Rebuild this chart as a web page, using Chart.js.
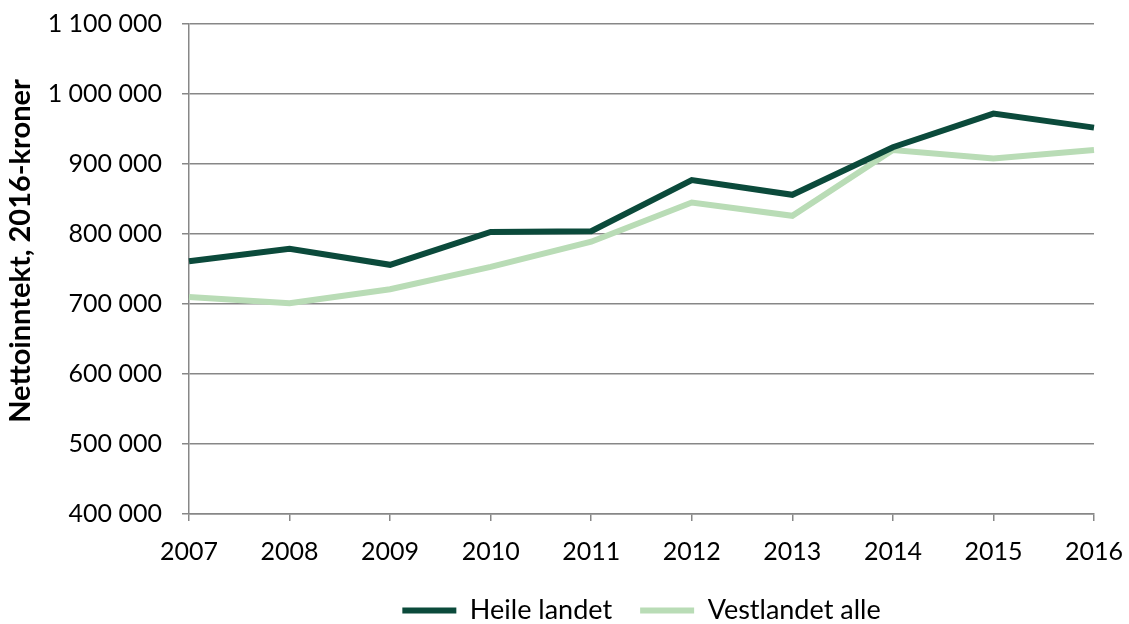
<!DOCTYPE html>
<html><head><meta charset="utf-8">
<script src="https://cdn.jsdelivr.net/npm/chart.js@4.4.1/dist/chart.umd.min.js"></script>
<style>html,body{margin:0;padding:0;background:#fff}#wrap{width:1129px;height:624px}</style>
</head><body><div id="wrap"><canvas id="c" width="1129" height="624"></canvas></div>
<script>
const years = ['2007','2008','2009','2010','2011','2012','2013','2014','2015','2016'];
const heileLandet = [761000, 779000, 756000, 803000, 804000, 877000, 856000, 924000, 972000, 952000];
const vestlandetAlle = [710000, 701000, 721000, 753000, 789000, 845000, 826000, 920000, 908000, 920000];
const seriesNames = ['Heile landet', 'Vestlandet alle'];
const yTitle = 'Nettoinntekt, 2016-kroner';
const yMin = 400000, yMax = 1100000, yStep = 100000;

const fmt = v => String(v).replace(/\B(?=(\d{3})+(?!\d))/g, ' ');
const FONT = 'Lato';
const grey = '#878787';

const legendCenter = {
  id: 'legendCenter',
  afterLayout(chart) {
    const l = chart.legend;
    if (!l) return;
    l.left = chart.chartArea.left;
    l.right = chart.chartArea.right;
    l.width = l.right - l.left;
  }
};

// y-axis title, drawn slightly above the plot's vertical centre as in the reference
const yTitlePlugin = {
  id: 'yTitlePlugin',
  afterDraw(chart) {
    const { ctx, chartArea } = chart;
    const cy = (chartArea.top + chartArea.bottom) / 2 - 18;
    ctx.save();
    ctx.translate(21, cy);
    ctx.rotate(-Math.PI / 2);
    ctx.font = 'bold 29px ' + FONT;
    ctx.fillStyle = '#000';
    ctx.textAlign = 'center';
    ctx.textBaseline = 'middle';
    ctx.fillText(yTitle, 0, 0);
    ctx.restore();
  }
};

new Chart(document.getElementById('c'), {
  type: 'line',
  data: {
    labels: years,
    datasets: [
      { label: seriesNames[0], data: heileLandet, borderColor: '#0b4a3b', backgroundColor: '#0b4a3b', borderWidth: 6, pointRadius: 0, tension: 0 },
      { label: seriesNames[1], data: vestlandetAlle, borderColor: '#b9dcb6', backgroundColor: '#b9dcb6', borderWidth: 6, pointRadius: 0, tension: 0 }
    ]
  },
  plugins: [legendCenter, yTitlePlugin],
  options: {
    responsive: false,
    animation: false,
    layout: { autoPadding: false, padding: { top: 24, right: 35, left: 0, bottom: -10 } },
    plugins: {
      tooltip: { enabled: false },
      legend: {
        position: 'bottom',
        labels: {
          color: '#000',
          font: { family: FONT, size: 27 },
          boxWidth: 54, boxHeight: 6, padding: 28,
          generateLabels: (chart) => Chart.defaults.plugins.legend.labels.generateLabels(chart).map(l => Object.assign(l, { lineWidth: 0 }))
        }
      }
    },
    scales: {
      x: {
        offset: false,
        grid: { drawOnChartArea: false, drawTicks: true, tickLength: 7, color: grey, lineWidth: 1.5 },
        border: { color: grey, width: 1.5 },
        ticks: { color: '#000', font: { family: FONT, size: 25 }, padding: 16, maxRotation: 0, autoSkip: false },
        afterFit: s => { s.height = 55; s.paddingLeft = 0; s.paddingRight = 0; }
      },
      y: {
        min: yMin, max: yMax,
        grid: { color: grey, lineWidth: 1.5, tickLength: 7 },
        border: { color: grey, width: 1.5 },
        ticks: { stepSize: yStep, color: '#000', font: { family: FONT, size: 25 }, padding: 20, callback: v => fmt(v) },
        title: { display: false, text: yTitle },
        afterFit: s => { s.width = 189; s.paddingTop = 0; s.paddingBottom = 0; }
      }
    }
  }
});
</script></body></html>
